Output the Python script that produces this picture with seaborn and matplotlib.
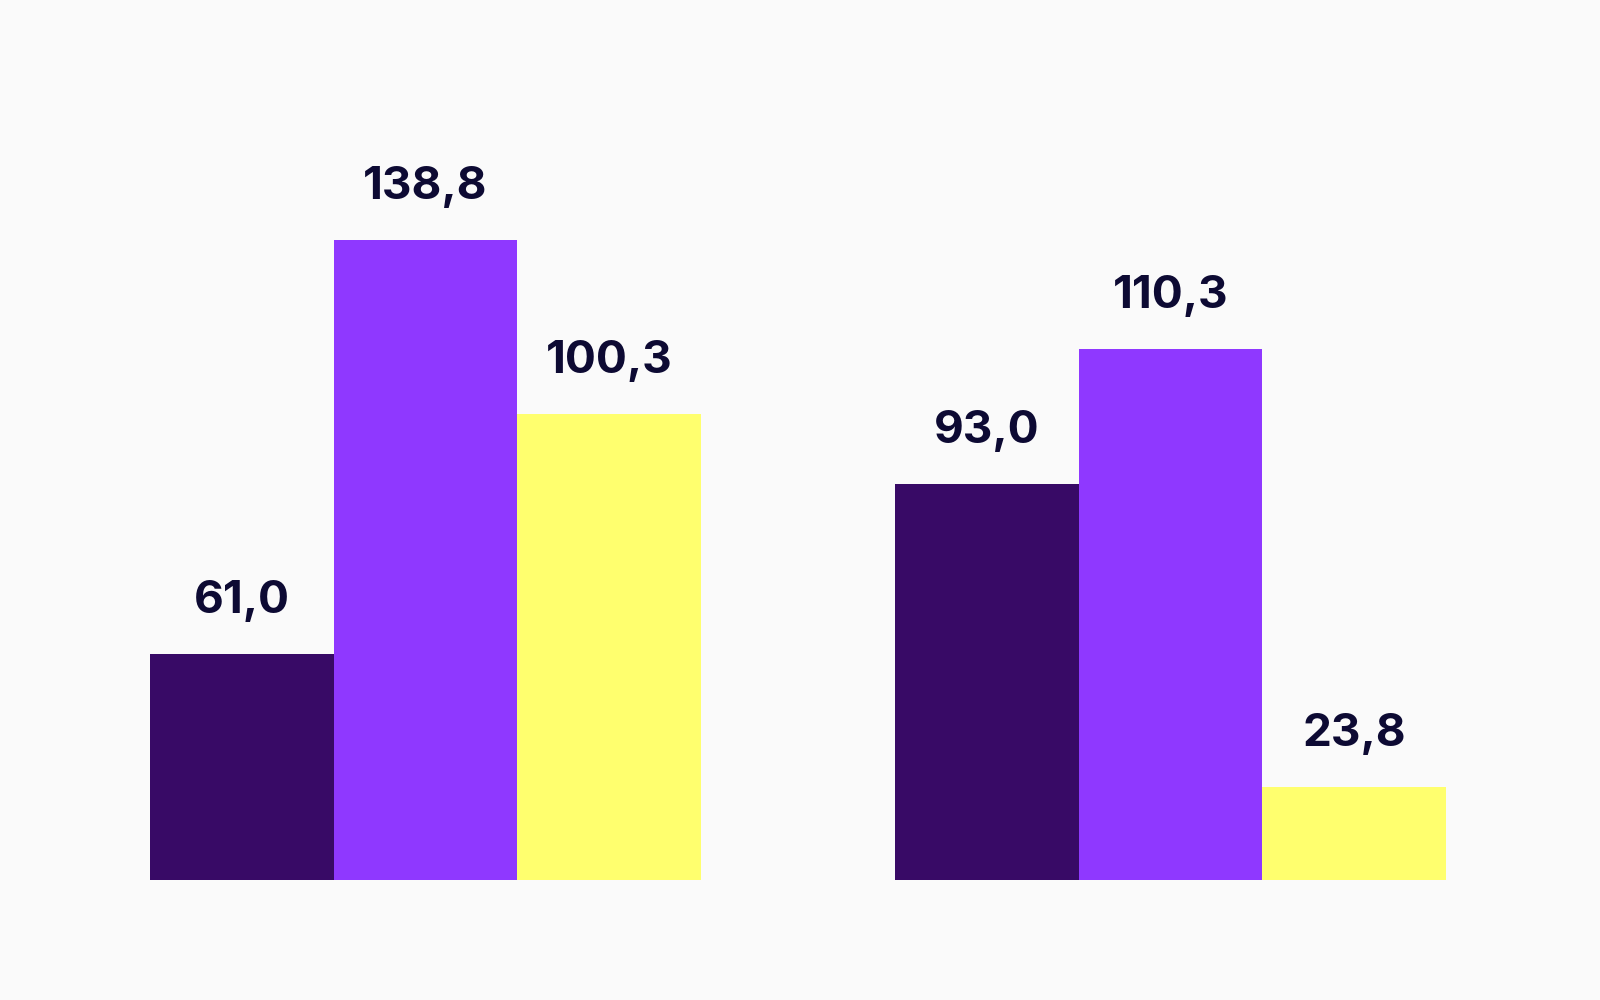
import pandas as pd
import matplotlib
matplotlib.use("Agg")
import matplotlib.pyplot as plt
import seaborn as sns

# data (bar heights as drawn, labels as printed)
groups = ["A", "B"]
series = ["Serie 1", "Serie 2", "Serie 3"]
heights_a = [226, 640, 466]
heights_b = [396, 531, 93]
labels_a = ["61,0", "138,8", "100,3"]
labels_b = ["93,0", "110,3", "23,8"]
colors = ["#380A66", "#8F38FF", "#FFFF6E"]

bg = "#FAFAFA"
text_color = "#0D0A33"

df = pd.DataFrame({
    "group": [groups[0]] * 3 + [groups[1]] * 3,
    "series": series * 2,
    "height": heights_a + heights_b,
    "label": labels_a + labels_b,
})

sns.set_theme(style="white")
plt.rcParams["font.family"] = ["Inter", "DejaVu Sans"]

fig = plt.figure(figsize=(16, 10), dpi=100, facecolor=bg)
ax = fig.add_axes([150 / 1600, 0.12, (1446 - 150) / 1600, 0.88])
ax.set_facecolor(bg)

sns.barplot(data=df, x="group", y="height", hue="series", order=groups,
            hue_order=series, palette=colors, saturation=1, width=0.74,
            gap=0, linewidth=0, edgecolor="none", legend=False, ax=ax)

ax.set_xlim(-0.37, 1.37)
ax.set_ylim(0, 880)

# value labels above each bar
for cont, s in zip(ax.containers, series):
    sub = df[df["series"] == s].set_index("group").loc[groups]
    for bar, lab in zip(cont, sub["label"]):
        ax.annotate(lab, (bar.get_x() + bar.get_width() / 2, bar.get_height()),
                    xytext=(0, 38), textcoords="offset points",
                    ha="center", va="center", fontsize=33, fontweight="bold",
                    color=text_color)

ax.set_xlabel("")
ax.set_ylabel("")
ax.set_xticks([])
ax.set_yticks([])
sns.despine(ax=ax, left=True, bottom=True)

fig.savefig("out.png", dpi=100, facecolor=bg)
